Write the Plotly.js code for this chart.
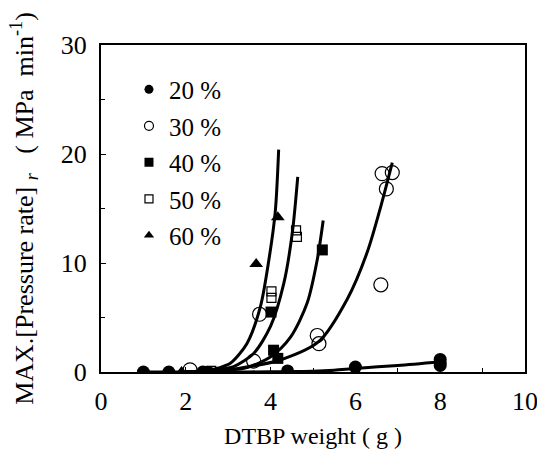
<!DOCTYPE html>
<html>
<head>
<meta charset="utf-8">
<script src="https://cdn.plot.ly/plotly-3.0.1.min.js"></script>
<style>html,body{margin:0;padding:0;background:#fff;}#chart{width:537px;height:452px;}</style>
</head>
<body>
<div id="chart"></div>
<script>
// Legend labels
const seriesNames = ["20 %", "30 %", "40 %", "50 %", "60 %"];

// Measured points
const p20x = [1.0, 1.6, 2.4, 4.4, 6.0, 8.0, 8.0, 8.0];
const p20y = [0, 0, 0, 0.1, 0.45, 1.15, 0.85, 0.6];
const p30x = [2.1, 3.6, 3.74, 5.1, 5.14, 6.6, 6.63, 6.73, 6.87];
const p30y = [0.2, 1.0, 5.3, 3.35, 2.6, 8.0, 18.2, 16.8, 18.3];
const p40x = [2.5, 4.01, 4.07, 4.17, 5.22];
const p40y = [0.05, 5.5, 2.0, 1.25, 11.2];
const p50x = [2.6, 4.02, 4.02, 4.6, 4.62];
const p50y = [0.1, 7.4, 6.8, 13.0, 12.4];
const p60x = [1.9, 3.66, 4.17];
const p60y = [0, 9.9, 14.2];

// Fitted curves
const c20x = [1.0, 2.0, 3.0, 4.0, 4.5, 5.0, 5.5, 6.0, 7.0, 8.0];
const c20y = [0, 0, 0, 0.02, 0.05, 0.08, 0.17, 0.33, 0.6, 0.95];
const c30x = [2.0, 2.5, 3.0, 3.5, 4.23, 5.14, 5.81, 6.28, 6.6, 6.87];
const c30y = [0.02, 0.05, 0.2, 0.5, 1.1, 2.8, 6.7, 11.0, 15.2, 19.2];
const c40x = [2.0, 2.5, 3.0, 3.44, 4.0, 4.47, 4.86, 5.1, 5.24];
const c40y = [0.02, 0.08, 0.15, 0.4, 1.4, 3.2, 6.3, 10.3, 13.9];
const c50x = [2.0, 2.5, 2.8, 3.13, 3.6, 4.0, 4.31, 4.51, 4.64];
const c50y = [0.02, 0.1, 0.25, 0.5, 1.7, 4.2, 8.1, 12.7, 17.9];
const c60x = [2.0, 2.5, 2.8, 3.05, 3.44, 3.76, 3.96, 4.11, 4.19];
const c60y = [0.02, 0.15, 0.4, 0.8, 2.6, 6.0, 10.3, 14.7, 20.4];

const FONT = "'Liberation Serif', 'Times New Roman', Times, serif";

function curve(x, y) {
  return {x: x, y: y, mode: "lines", type: "scatter", showlegend: false, hoverinfo: "skip",
          line: {color: "#000", width: 3, shape: "spline", smoothing: 0.8}};
}
const mk = [
  {symbol: "circle", color: "#000", size: 13, line: {color: "#000", width: 0}},
  {symbol: "circle-open", color: "#000", size: 14, line: {color: "#000", width: 1.2}},
  {symbol: "square", color: "#000", size: 11, line: {color: "#000", width: 0}},
  {symbol: "square-open", color: "#000", size: 9, line: {color: "#000", width: 1.2}},
  {symbol: "triangle-up", color: "#000", size: 12, line: {color: "#000", width: 0}}
];
const px = [p20x, p30x, p40x, p50x, p60x];
const py = [p20y, p30y, p40y, p50y, p60y];

const traces = [curve(c20x, c20y), curve(c30x, c30y), curve(c40x, c40y), curve(c50x, c50y), curve(c60x, c60y)];
for (let i = 0; i < 5; i++) {
  traces.push({x: px[i], y: py[i], mode: "markers", type: "scatter", showlegend: false,
               marker: mk[i]});
}
for (let i = 0; i < 5; i++) {
  const m = Object.assign({}, mk[i]);
  m.size = i === 3 ? 8 : 9;
  traces.push({x: [null], y: [null], mode: "markers", type: "scatter", name: seriesNames[i],
               legendgroup: "g" + i, marker: m});
}

const layout = {
  width: 537, height: 452,
  margin: {l: 101, r: 12, t: 45, b: 80},
  paper_bgcolor: "#fff", plot_bgcolor: "#fff",
  font: {family: FONT, color: "#000", size: 24},
  showlegend: true,
  legend: {x: 0.066, y: 0.934, xanchor: "left", yanchor: "top", bgcolor: "rgba(0,0,0,0)",
           font: {family: FONT, size: 25, color: "#000"}, traceorder: "grouped", tracegroupgap: 1,
           itemwidth: 30},
  xaxis: {range: [0, 10], dtick: 2, tick0: 0, showgrid: false, zeroline: false,
          showline: true, linecolor: "#000", linewidth: 2, mirror: true,
          ticks: "inside", ticklen: 5, tickwidth: 1, tickcolor: "#000", ticklabeloverflow: "allow",
          ticklabelstandoff: 5,
          minor: {dtick: 1, ticks: "inside", ticklen: 4, tickwidth: 1, tickcolor: "#000"},
          tickfont: {family: FONT, size: 26, color: "#000"},
          title: {text: "DTBP weight ( g )", font: {family: FONT, size: 24, color: "#000"}, standoff: 12}},
  yaxis: {range: [0, 30], dtick: 10, tick0: 0, showgrid: false, zeroline: false,
          showline: true, linecolor: "#000", linewidth: 2, mirror: true,
          ticks: "inside", ticklen: 5, tickwidth: 1, tickcolor: "#000",
          ticklabelstandoff: 7,
          minor: {dtick: 5, ticks: "inside", ticklen: 4, tickwidth: 1, tickcolor: "#000"},
          tickfont: {family: FONT, size: 26, color: "#000"},
          title: {text: "MAX.[Pressure rate]\u00a0<sub><i>r</i></sub>\u00a0\u00a0\u00a0( MPa\u00a0\u00a0min<sup>-1</sup>)",
                  font: {family: FONT, size: 26, color: "#000"}, standoff: 20}}
};

Plotly.newPlot("chart", traces, layout, {staticPlot: true, displayModeBar: false});
</script>
</body>
</html>
